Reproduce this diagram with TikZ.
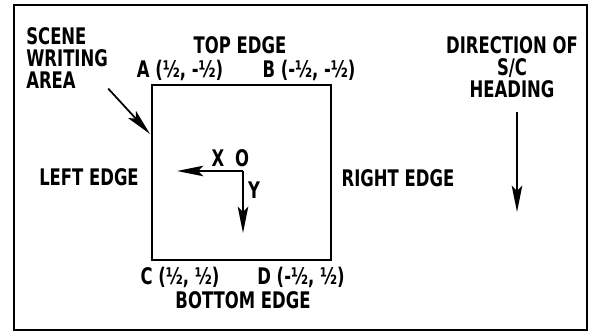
\documentclass[tikz,border=0pt]{standalone}
\usepackage{fontspec}
\setmainfont[FakeStretch=0.8]{DejaVu Sans Condensed}
\usetikzlibrary{arrows.meta}
\begin{document}
\begin{tikzpicture}[
x=0.02cm, y=-0.02cm,
every node/.style={
font=\bfseries\fontsize{13}{12.5}\selectfont,
inner sep=0pt,
align=center
},
edge/.style={line width=1.2pt},
pointer/.style={line width=1pt, -{Stealth[length=15pt,width=6pt,inset=3pt]}}
]
\useasboundingbox (0,0) rectangle (594,334);

% frame and writing area
\draw[edge] (14,5) rectangle (587,330);
\draw[edge] (152,85) rectangle (331,260);

\node[anchor=north west, align=left] (area) at (26,27)
{SCENE\\WRITING\\AREA};

\node (top) at (240,45) {TOP EDGE};
\node (a) at (180,70) {A (½, -½)};
\node (b) at (309,70) {B (-½, -½)};

\node (left) at (89,177) {LEFT EDGE};
\node (right) at (398,178) {RIGHT EDGE};

\node (c) at (180,277) {C (½, ½)};
\node (d) at (301,277) {D (-½, ½)};
\node (bottom) at (243,300) {BOTTOM EDGE};

\node (head) at (512,67)
{DIRECTION OF\\S/C\\HEADING};

\node (xl) at (218,158) {X};
\node (ol) at (242,158) {O};
\node (yl) at (254,190) {Y};

\coordinate (hit) at (150,134);
\coordinate (o) at (243,171);
\coordinate (xe) at (177,171);
\coordinate (ye) at (243,233);
\coordinate (hd) at (517,212);

\draw[pointer] (area.south east) -- (hit);
\draw[pointer] (o) -- (xe);
\draw[pointer] (o) -- (ye);
\draw[pointer, shorten <=8pt] (head.south -| hd) -- (hd);

\end{tikzpicture}
\end{document}
